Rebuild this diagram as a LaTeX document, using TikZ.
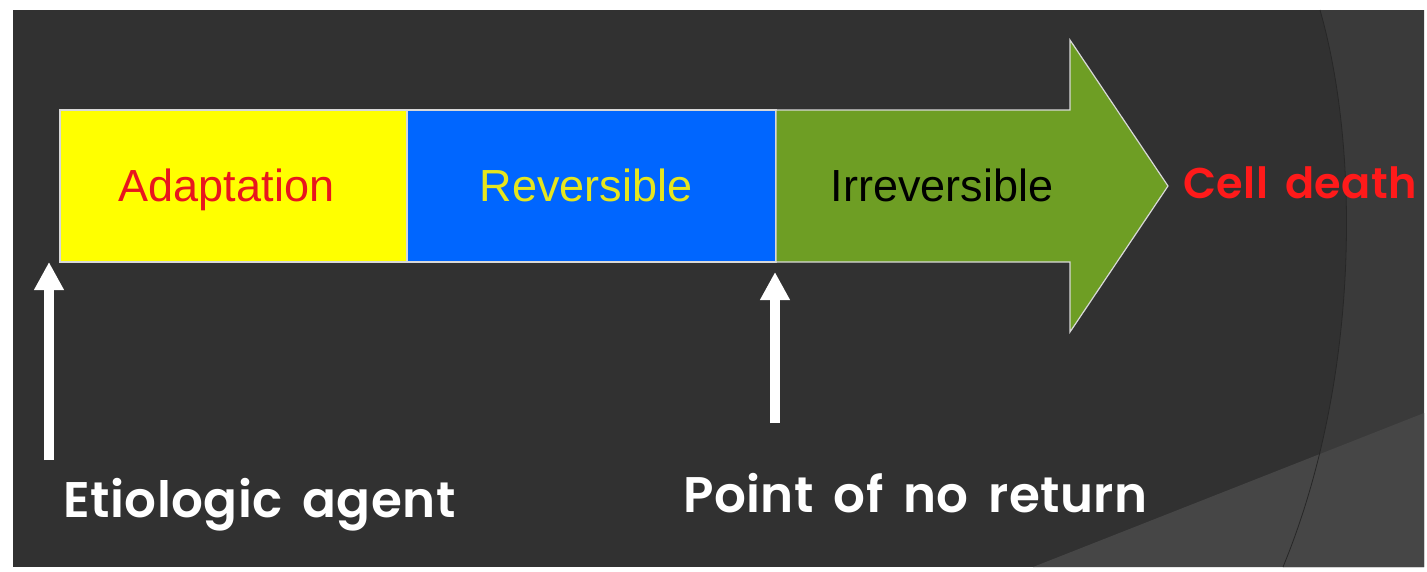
\documentclass[tikz,border=0pt]{standalone}
\usepackage{fontspec}
\setmainfont{Liberation Sans}
\newfontfamily\comicfont{Poppins SemiBold}[LetterSpace=1,WordSpace=1.6]
\usetikzlibrary{arrows.meta}
\definecolor{bgdark}{HTML}{313131}
\definecolor{bgmid}{HTML}{3A3A3A}
\definecolor{bglight}{HTML}{464646}
\definecolor{boxline}{HTML}{D8D8D8}
\definecolor{yel}{HTML}{FFFF00}
\definecolor{blu}{HTML}{0066FF}
\definecolor{grn}{HTML}{6E9E24}
\definecolor{redtxt}{HTML}{E8161E}
\definecolor{yeltxt}{HTML}{E6E61E}
\definecolor{reddeath}{HTML}{FF1A1A}
\begin{document}
\begin{tikzpicture}[x=1pt,y=-1pt,
  box/.style={draw=boxline, line width=1.2pt, minimum height=152pt, inner sep=0pt},
  boxtext/.style={font=\fontsize{45}{50}\selectfont, text height=31pt, text depth=0pt, inner sep=0pt},
  hand/.style={font=\comicfont\fontsize{50}{60}\selectfont, text=white, inner sep=0pt, anchor=base west},
  uparrow/.style={draw=white, line width=10pt, -{Triangle[width=28pt,length=28pt]}}]
\useasboundingbox (0,0) rectangle (1427,571);
\fill[white] (0,0) rectangle (1427,571);
\fill[bgdark] (13,10) rectangle (1424,567);
\fill[bgmid] (1320,10) .. controls (1360,150) and (1360,380) .. (1283,567) -- (1424,567) -- (1424,10) -- cycle;
\fill[bglight] (1033,567) -- (1424,413) -- (1424,567) -- cycle;
\draw[bgdark!80!black, line width=0.8pt] (1320,10) .. controls (1360,150) and (1360,380) .. (1283,567);

\node[box, fill=yel, minimum width=347pt] (ad) at (233.5,186) {};
\node[box, fill=blu, minimum width=369pt] (rev) at (591.5,186) {};
\draw[boxline, line width=1.2pt, fill=grn] (776,110) -- (1070,110) -- (1070,40) -- (1168,186) -- (1070,332) -- (1070,262) -- (776,262) -- cycle;
\node[boxtext, text=redtxt] (adt) at (226.5,186) {Adaptation};
\node[boxtext, text=yeltxt] (revt) at (586,186) {Reversible};
\node[boxtext, text=black] (irr) at (942,186) {Irreversible};
\node[font=\comicfont\fontsize{43}{56}\selectfont, text=reddeath, inner sep=0pt, anchor=base] (death) at (1300,198) {Cell death};

\coordinate (a1s) at (49,460);
\coordinate (a1e) at (49,262);
\coordinate (a2s) at (775,423);
\coordinate (a2e) at (775,272);
\draw[uparrow] (a1s) -- (a1e);
\draw[uparrow] (a2s) -- (a2e);

\node[hand] (etio) at (63,517) {Etiologic agent};
\node[hand] (pnr) at (683,512) {Point of no return};
\end{tikzpicture}
\end{document}
